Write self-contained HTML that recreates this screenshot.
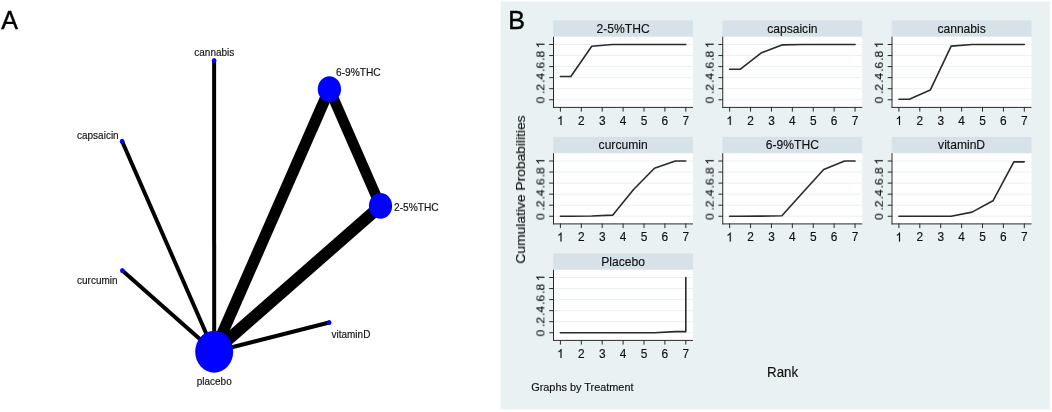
<!DOCTYPE html><html><head><meta charset="utf-8"><style>html,body{margin:0;padding:0;background:#fff;overflow:hidden;}svg{display:block;}text{font-family:"Liberation Sans",sans-serif;will-change:transform;}</style></head><body>
<svg width="1052" height="412" viewBox="0 0 1052 412">
<rect x="0" y="0" width="1052" height="412" fill="#fff"/>
<g opacity="0.999">
<text transform="translate(1.30,29.00)" font-size="25" text-anchor="start" fill="#000" stroke="#000" stroke-width="0.45">A</text>
<line x1="214.2" y1="351.7" x2="214.1" y2="60.6" stroke="#000" stroke-width="4"/>
<line x1="214.2" y1="351.7" x2="122.1" y2="141.3" stroke="#000" stroke-width="4"/>
<line x1="214.2" y1="351.7" x2="122.3" y2="270.4" stroke="#000" stroke-width="4"/>
<line x1="214.2" y1="351.7" x2="329.2" y2="322.5" stroke="#000" stroke-width="4"/>
<line x1="214.2" y1="351.7" x2="329.4" y2="89.2" stroke="#000" stroke-width="11.4"/>
<line x1="214.2" y1="351.7" x2="380.5" y2="205.9" stroke="#000" stroke-width="12"/>
<line x1="329.4" y1="89.2" x2="380.5" y2="205.9" stroke="#000" stroke-width="10.6"/>
<ellipse cx="214.2" cy="351.7" rx="19" ry="21" fill="#0000ff"/>
<ellipse cx="329.4" cy="89.2" rx="11.6" ry="12.9" fill="#0000ff"/>
<ellipse cx="380.5" cy="205.9" rx="11.6" ry="12.9" fill="#0000ff"/>
<ellipse cx="214.1" cy="60.6" rx="2.3" ry="2.5" fill="#0000ff"/>
<ellipse cx="122.1" cy="141.3" rx="2.3" ry="2.5" fill="#0000ff"/>
<ellipse cx="122.3" cy="270.4" rx="2.3" ry="2.5" fill="#0000ff"/>
<ellipse cx="329.2" cy="322.5" rx="2.3" ry="2.5" fill="#0000ff"/>
<text transform="translate(214.30,55.80) scale(1,1.12)" font-size="10" text-anchor="middle" fill="#111" stroke="#111" stroke-width="0.15">cannabis</text>
<text transform="translate(336.00,76.40) scale(1,1.12)" font-size="10.2" text-anchor="start" fill="#111" stroke="#111" stroke-width="0.15">6-9%THC</text>
<text transform="translate(394.00,210.70) scale(1,1.12)" font-size="10.2" text-anchor="start" fill="#111" stroke="#111" stroke-width="0.15">2-5%THC</text>
<text transform="translate(77.00,138.70) scale(1,1.12)" font-size="10" text-anchor="start" fill="#111" stroke="#111" stroke-width="0.15">capsaicin</text>
<text transform="translate(77.00,283.60) scale(1,1.12)" font-size="10" text-anchor="start" fill="#111" stroke="#111" stroke-width="0.15">curcumin</text>
<text transform="translate(331.50,337.60) scale(1,1.12)" font-size="10" text-anchor="start" fill="#111" stroke="#111" stroke-width="0.15">vitaminD</text>
<text transform="translate(214.20,385.50) scale(1,1.12)" font-size="10" text-anchor="middle" fill="#111" stroke="#111" stroke-width="0.15">placebo</text>
<rect x="500.5" y="1.6" width="549.3" height="407.9" fill="#e9f1f2"/>
<text transform="translate(508.20,29.00)" font-size="25" text-anchor="start" fill="#000" stroke="#000" stroke-width="0.45">B</text>
<rect x="553.20" y="20.40" width="139.8" height="16.4" fill="#d7e2e8"/>
<text transform="translate(623.10,32.60) scale(1,1.03)" font-size="12.1" text-anchor="middle" fill="#111" stroke="#111" stroke-width="0.15">2-5%THC</text>
<rect x="553.20" y="36.80" width="139.8" height="70.60" fill="#fff"/>
<line x1="554.20" y1="99.75" x2="693.00" y2="99.75" stroke="#ebf0f1" stroke-width="1"/>
<line x1="549.20" y1="99.75" x2="553.70" y2="99.75" stroke="#2a2a2a" stroke-width="1"/>
<text transform="translate(544.40,100.05) scale(1,1.04) rotate(-90)" font-size="11.6" text-anchor="middle" fill="#111" stroke="#111" stroke-width="0.15">0</text>
<line x1="554.20" y1="88.70" x2="693.00" y2="88.70" stroke="#ebf0f1" stroke-width="1"/>
<line x1="549.20" y1="88.70" x2="553.70" y2="88.70" stroke="#2a2a2a" stroke-width="1"/>
<text transform="translate(544.40,89.00) scale(1,1.04) rotate(-90)" font-size="11.6" text-anchor="middle" fill="#111" stroke="#111" stroke-width="0.15">.2</text>
<line x1="554.20" y1="77.65" x2="693.00" y2="77.65" stroke="#ebf0f1" stroke-width="1"/>
<line x1="549.20" y1="77.65" x2="553.70" y2="77.65" stroke="#2a2a2a" stroke-width="1"/>
<text transform="translate(544.40,77.95) scale(1,1.04) rotate(-90)" font-size="11.6" text-anchor="middle" fill="#111" stroke="#111" stroke-width="0.15">.4</text>
<line x1="554.20" y1="66.60" x2="693.00" y2="66.60" stroke="#ebf0f1" stroke-width="1"/>
<line x1="549.20" y1="66.60" x2="553.70" y2="66.60" stroke="#2a2a2a" stroke-width="1"/>
<text transform="translate(544.40,66.90) scale(1,1.04) rotate(-90)" font-size="11.6" text-anchor="middle" fill="#111" stroke="#111" stroke-width="0.15">.6</text>
<line x1="554.20" y1="55.55" x2="693.00" y2="55.55" stroke="#ebf0f1" stroke-width="1"/>
<line x1="549.20" y1="55.55" x2="553.70" y2="55.55" stroke="#2a2a2a" stroke-width="1"/>
<text transform="translate(544.40,55.85) scale(1,1.04) rotate(-90)" font-size="11.6" text-anchor="middle" fill="#111" stroke="#111" stroke-width="0.15">.8</text>
<line x1="554.20" y1="44.50" x2="693.00" y2="44.50" stroke="#ebf0f1" stroke-width="1"/>
<line x1="549.20" y1="44.50" x2="553.70" y2="44.50" stroke="#2a2a2a" stroke-width="1"/>
<path transform="translate(544.40,44.80) scale(1,1.04) rotate(-90) translate(-3.226,0) scale(0.00566,-0.00566)" d="M763 0H583V1147Q518 1085 412.5 1023Q307 961 223 930V1104Q374 1175 487 1276Q600 1377 647 1472H763Z" fill="#111" stroke="#111" stroke-width="26.5"/>
<line x1="560.40" y1="107.00" x2="560.40" y2="111.60" stroke="#2a2a2a" stroke-width="1"/>
<path transform="translate(560.40,124.90) scale(1,1.045) translate(-3.309,0) scale(0.00581,-0.00581)" d="M763 0H583V1147Q518 1085 412.5 1023Q307 961 223 930V1104Q374 1175 487 1276Q600 1377 647 1472H763Z" fill="#111" stroke="#111" stroke-width="25.8"/>
<line x1="581.30" y1="107.00" x2="581.30" y2="111.60" stroke="#2a2a2a" stroke-width="1"/>
<text transform="translate(581.30,124.90) scale(1,1.045)" font-size="11.9" text-anchor="middle" fill="#111" stroke="#111" stroke-width="0.15">2</text>
<line x1="602.20" y1="107.00" x2="602.20" y2="111.60" stroke="#2a2a2a" stroke-width="1"/>
<text transform="translate(602.20,124.90) scale(1,1.045)" font-size="11.9" text-anchor="middle" fill="#111" stroke="#111" stroke-width="0.15">3</text>
<line x1="623.10" y1="107.00" x2="623.10" y2="111.60" stroke="#2a2a2a" stroke-width="1"/>
<text transform="translate(623.10,124.90) scale(1,1.045)" font-size="11.9" text-anchor="middle" fill="#111" stroke="#111" stroke-width="0.15">4</text>
<line x1="644.00" y1="107.00" x2="644.00" y2="111.60" stroke="#2a2a2a" stroke-width="1"/>
<text transform="translate(644.00,124.90) scale(1,1.045)" font-size="11.9" text-anchor="middle" fill="#111" stroke="#111" stroke-width="0.15">5</text>
<line x1="664.90" y1="107.00" x2="664.90" y2="111.60" stroke="#2a2a2a" stroke-width="1"/>
<text transform="translate(664.90,124.90) scale(1,1.045)" font-size="11.9" text-anchor="middle" fill="#111" stroke="#111" stroke-width="0.15">6</text>
<line x1="685.80" y1="107.00" x2="685.80" y2="111.60" stroke="#2a2a2a" stroke-width="1"/>
<text transform="translate(685.80,124.90) scale(1,1.045)" font-size="11.9" text-anchor="middle" fill="#111" stroke="#111" stroke-width="0.15">7</text>
<line x1="553.50" y1="36.70" x2="553.50" y2="107.90" stroke="#2a2a2a" stroke-width="1"/>
<line x1="553.20" y1="107.40" x2="693.00" y2="107.40" stroke="#2a2a2a" stroke-width="1"/>
<polyline points="560.40,76.55 570.85,76.55 591.75,46.27 612.65,44.50 633.55,44.50 654.45,44.50 675.35,44.50 685.80,44.50" fill="none" stroke="#2a2a2a" stroke-width="1.6" stroke-linejoin="round" stroke-linecap="round"/>
<rect x="722.45" y="20.40" width="139.8" height="16.4" fill="#d7e2e8"/>
<text transform="translate(792.35,32.60) scale(1,1.03)" font-size="12.1" text-anchor="middle" fill="#111" stroke="#111" stroke-width="0.15">capsaicin</text>
<rect x="722.45" y="36.80" width="139.8" height="70.60" fill="#fff"/>
<line x1="723.45" y1="99.75" x2="862.25" y2="99.75" stroke="#ebf0f1" stroke-width="1"/>
<line x1="718.45" y1="99.75" x2="722.95" y2="99.75" stroke="#2a2a2a" stroke-width="1"/>
<text transform="translate(713.65,100.05) scale(1,1.04) rotate(-90)" font-size="11.6" text-anchor="middle" fill="#111" stroke="#111" stroke-width="0.15">0</text>
<line x1="723.45" y1="88.70" x2="862.25" y2="88.70" stroke="#ebf0f1" stroke-width="1"/>
<line x1="718.45" y1="88.70" x2="722.95" y2="88.70" stroke="#2a2a2a" stroke-width="1"/>
<text transform="translate(713.65,89.00) scale(1,1.04) rotate(-90)" font-size="11.6" text-anchor="middle" fill="#111" stroke="#111" stroke-width="0.15">.2</text>
<line x1="723.45" y1="77.65" x2="862.25" y2="77.65" stroke="#ebf0f1" stroke-width="1"/>
<line x1="718.45" y1="77.65" x2="722.95" y2="77.65" stroke="#2a2a2a" stroke-width="1"/>
<text transform="translate(713.65,77.95) scale(1,1.04) rotate(-90)" font-size="11.6" text-anchor="middle" fill="#111" stroke="#111" stroke-width="0.15">.4</text>
<line x1="723.45" y1="66.60" x2="862.25" y2="66.60" stroke="#ebf0f1" stroke-width="1"/>
<line x1="718.45" y1="66.60" x2="722.95" y2="66.60" stroke="#2a2a2a" stroke-width="1"/>
<text transform="translate(713.65,66.90) scale(1,1.04) rotate(-90)" font-size="11.6" text-anchor="middle" fill="#111" stroke="#111" stroke-width="0.15">.6</text>
<line x1="723.45" y1="55.55" x2="862.25" y2="55.55" stroke="#ebf0f1" stroke-width="1"/>
<line x1="718.45" y1="55.55" x2="722.95" y2="55.55" stroke="#2a2a2a" stroke-width="1"/>
<text transform="translate(713.65,55.85) scale(1,1.04) rotate(-90)" font-size="11.6" text-anchor="middle" fill="#111" stroke="#111" stroke-width="0.15">.8</text>
<line x1="723.45" y1="44.50" x2="862.25" y2="44.50" stroke="#ebf0f1" stroke-width="1"/>
<line x1="718.45" y1="44.50" x2="722.95" y2="44.50" stroke="#2a2a2a" stroke-width="1"/>
<path transform="translate(713.65,44.80) scale(1,1.04) rotate(-90) translate(-3.226,0) scale(0.00566,-0.00566)" d="M763 0H583V1147Q518 1085 412.5 1023Q307 961 223 930V1104Q374 1175 487 1276Q600 1377 647 1472H763Z" fill="#111" stroke="#111" stroke-width="26.5"/>
<line x1="729.65" y1="107.00" x2="729.65" y2="111.60" stroke="#2a2a2a" stroke-width="1"/>
<path transform="translate(729.65,124.90) scale(1,1.045) translate(-3.309,0) scale(0.00581,-0.00581)" d="M763 0H583V1147Q518 1085 412.5 1023Q307 961 223 930V1104Q374 1175 487 1276Q600 1377 647 1472H763Z" fill="#111" stroke="#111" stroke-width="25.8"/>
<line x1="750.55" y1="107.00" x2="750.55" y2="111.60" stroke="#2a2a2a" stroke-width="1"/>
<text transform="translate(750.55,124.90) scale(1,1.045)" font-size="11.9" text-anchor="middle" fill="#111" stroke="#111" stroke-width="0.15">2</text>
<line x1="771.45" y1="107.00" x2="771.45" y2="111.60" stroke="#2a2a2a" stroke-width="1"/>
<text transform="translate(771.45,124.90) scale(1,1.045)" font-size="11.9" text-anchor="middle" fill="#111" stroke="#111" stroke-width="0.15">3</text>
<line x1="792.35" y1="107.00" x2="792.35" y2="111.60" stroke="#2a2a2a" stroke-width="1"/>
<text transform="translate(792.35,124.90) scale(1,1.045)" font-size="11.9" text-anchor="middle" fill="#111" stroke="#111" stroke-width="0.15">4</text>
<line x1="813.25" y1="107.00" x2="813.25" y2="111.60" stroke="#2a2a2a" stroke-width="1"/>
<text transform="translate(813.25,124.90) scale(1,1.045)" font-size="11.9" text-anchor="middle" fill="#111" stroke="#111" stroke-width="0.15">5</text>
<line x1="834.15" y1="107.00" x2="834.15" y2="111.60" stroke="#2a2a2a" stroke-width="1"/>
<text transform="translate(834.15,124.90) scale(1,1.045)" font-size="11.9" text-anchor="middle" fill="#111" stroke="#111" stroke-width="0.15">6</text>
<line x1="855.05" y1="107.00" x2="855.05" y2="111.60" stroke="#2a2a2a" stroke-width="1"/>
<text transform="translate(855.05,124.90) scale(1,1.045)" font-size="11.9" text-anchor="middle" fill="#111" stroke="#111" stroke-width="0.15">7</text>
<line x1="722.75" y1="36.70" x2="722.75" y2="107.90" stroke="#2a2a2a" stroke-width="1"/>
<line x1="722.45" y1="107.40" x2="862.25" y2="107.40" stroke="#2a2a2a" stroke-width="1"/>
<polyline points="729.65,69.31 740.10,69.31 761.00,53.06 781.90,44.89 802.80,44.50 823.70,44.50 844.60,44.50 855.05,44.50" fill="none" stroke="#2a2a2a" stroke-width="1.6" stroke-linejoin="round" stroke-linecap="round"/>
<rect x="891.70" y="20.40" width="139.8" height="16.4" fill="#d7e2e8"/>
<text transform="translate(961.60,32.60) scale(1,1.03)" font-size="12.1" text-anchor="middle" fill="#111" stroke="#111" stroke-width="0.15">cannabis</text>
<rect x="891.70" y="36.80" width="139.8" height="70.60" fill="#fff"/>
<line x1="892.70" y1="99.75" x2="1031.50" y2="99.75" stroke="#ebf0f1" stroke-width="1"/>
<line x1="887.70" y1="99.75" x2="892.20" y2="99.75" stroke="#2a2a2a" stroke-width="1"/>
<text transform="translate(882.90,100.05) scale(1,1.04) rotate(-90)" font-size="11.6" text-anchor="middle" fill="#111" stroke="#111" stroke-width="0.15">0</text>
<line x1="892.70" y1="88.70" x2="1031.50" y2="88.70" stroke="#ebf0f1" stroke-width="1"/>
<line x1="887.70" y1="88.70" x2="892.20" y2="88.70" stroke="#2a2a2a" stroke-width="1"/>
<text transform="translate(882.90,89.00) scale(1,1.04) rotate(-90)" font-size="11.6" text-anchor="middle" fill="#111" stroke="#111" stroke-width="0.15">.2</text>
<line x1="892.70" y1="77.65" x2="1031.50" y2="77.65" stroke="#ebf0f1" stroke-width="1"/>
<line x1="887.70" y1="77.65" x2="892.20" y2="77.65" stroke="#2a2a2a" stroke-width="1"/>
<text transform="translate(882.90,77.95) scale(1,1.04) rotate(-90)" font-size="11.6" text-anchor="middle" fill="#111" stroke="#111" stroke-width="0.15">.4</text>
<line x1="892.70" y1="66.60" x2="1031.50" y2="66.60" stroke="#ebf0f1" stroke-width="1"/>
<line x1="887.70" y1="66.60" x2="892.20" y2="66.60" stroke="#2a2a2a" stroke-width="1"/>
<text transform="translate(882.90,66.90) scale(1,1.04) rotate(-90)" font-size="11.6" text-anchor="middle" fill="#111" stroke="#111" stroke-width="0.15">.6</text>
<line x1="892.70" y1="55.55" x2="1031.50" y2="55.55" stroke="#ebf0f1" stroke-width="1"/>
<line x1="887.70" y1="55.55" x2="892.20" y2="55.55" stroke="#2a2a2a" stroke-width="1"/>
<text transform="translate(882.90,55.85) scale(1,1.04) rotate(-90)" font-size="11.6" text-anchor="middle" fill="#111" stroke="#111" stroke-width="0.15">.8</text>
<line x1="892.70" y1="44.50" x2="1031.50" y2="44.50" stroke="#ebf0f1" stroke-width="1"/>
<line x1="887.70" y1="44.50" x2="892.20" y2="44.50" stroke="#2a2a2a" stroke-width="1"/>
<path transform="translate(882.90,44.80) scale(1,1.04) rotate(-90) translate(-3.226,0) scale(0.00566,-0.00566)" d="M763 0H583V1147Q518 1085 412.5 1023Q307 961 223 930V1104Q374 1175 487 1276Q600 1377 647 1472H763Z" fill="#111" stroke="#111" stroke-width="26.5"/>
<line x1="898.90" y1="107.00" x2="898.90" y2="111.60" stroke="#2a2a2a" stroke-width="1"/>
<path transform="translate(898.90,124.90) scale(1,1.045) translate(-3.309,0) scale(0.00581,-0.00581)" d="M763 0H583V1147Q518 1085 412.5 1023Q307 961 223 930V1104Q374 1175 487 1276Q600 1377 647 1472H763Z" fill="#111" stroke="#111" stroke-width="25.8"/>
<line x1="919.80" y1="107.00" x2="919.80" y2="111.60" stroke="#2a2a2a" stroke-width="1"/>
<text transform="translate(919.80,124.90) scale(1,1.045)" font-size="11.9" text-anchor="middle" fill="#111" stroke="#111" stroke-width="0.15">2</text>
<line x1="940.70" y1="107.00" x2="940.70" y2="111.60" stroke="#2a2a2a" stroke-width="1"/>
<text transform="translate(940.70,124.90) scale(1,1.045)" font-size="11.9" text-anchor="middle" fill="#111" stroke="#111" stroke-width="0.15">3</text>
<line x1="961.60" y1="107.00" x2="961.60" y2="111.60" stroke="#2a2a2a" stroke-width="1"/>
<text transform="translate(961.60,124.90) scale(1,1.045)" font-size="11.9" text-anchor="middle" fill="#111" stroke="#111" stroke-width="0.15">4</text>
<line x1="982.50" y1="107.00" x2="982.50" y2="111.60" stroke="#2a2a2a" stroke-width="1"/>
<text transform="translate(982.50,124.90) scale(1,1.045)" font-size="11.9" text-anchor="middle" fill="#111" stroke="#111" stroke-width="0.15">5</text>
<line x1="1003.40" y1="107.00" x2="1003.40" y2="111.60" stroke="#2a2a2a" stroke-width="1"/>
<text transform="translate(1003.40,124.90) scale(1,1.045)" font-size="11.9" text-anchor="middle" fill="#111" stroke="#111" stroke-width="0.15">6</text>
<line x1="1024.30" y1="107.00" x2="1024.30" y2="111.60" stroke="#2a2a2a" stroke-width="1"/>
<text transform="translate(1024.30,124.90) scale(1,1.045)" font-size="11.9" text-anchor="middle" fill="#111" stroke="#111" stroke-width="0.15">7</text>
<line x1="892.00" y1="36.70" x2="892.00" y2="107.90" stroke="#2a2a2a" stroke-width="1"/>
<line x1="891.70" y1="107.40" x2="1031.50" y2="107.40" stroke="#2a2a2a" stroke-width="1"/>
<polyline points="898.90,99.20 909.35,99.20 930.25,90.08 951.15,46.16 972.05,44.50 992.95,44.50 1013.85,44.50 1024.30,44.50" fill="none" stroke="#2a2a2a" stroke-width="1.6" stroke-linejoin="round" stroke-linecap="round"/>
<rect x="553.20" y="136.90" width="139.8" height="16.4" fill="#d7e2e8"/>
<text transform="translate(623.10,149.10) scale(1,1.03)" font-size="12.1" text-anchor="middle" fill="#111" stroke="#111" stroke-width="0.15">curcumin</text>
<rect x="553.20" y="153.30" width="139.8" height="70.60" fill="#fff"/>
<line x1="554.20" y1="216.25" x2="693.00" y2="216.25" stroke="#ebf0f1" stroke-width="1"/>
<line x1="549.20" y1="216.25" x2="553.70" y2="216.25" stroke="#2a2a2a" stroke-width="1"/>
<text transform="translate(544.40,216.55) scale(1,1.04) rotate(-90)" font-size="11.6" text-anchor="middle" fill="#111" stroke="#111" stroke-width="0.15">0</text>
<line x1="554.20" y1="205.20" x2="693.00" y2="205.20" stroke="#ebf0f1" stroke-width="1"/>
<line x1="549.20" y1="205.20" x2="553.70" y2="205.20" stroke="#2a2a2a" stroke-width="1"/>
<text transform="translate(544.40,205.50) scale(1,1.04) rotate(-90)" font-size="11.6" text-anchor="middle" fill="#111" stroke="#111" stroke-width="0.15">.2</text>
<line x1="554.20" y1="194.15" x2="693.00" y2="194.15" stroke="#ebf0f1" stroke-width="1"/>
<line x1="549.20" y1="194.15" x2="553.70" y2="194.15" stroke="#2a2a2a" stroke-width="1"/>
<text transform="translate(544.40,194.45) scale(1,1.04) rotate(-90)" font-size="11.6" text-anchor="middle" fill="#111" stroke="#111" stroke-width="0.15">.4</text>
<line x1="554.20" y1="183.10" x2="693.00" y2="183.10" stroke="#ebf0f1" stroke-width="1"/>
<line x1="549.20" y1="183.10" x2="553.70" y2="183.10" stroke="#2a2a2a" stroke-width="1"/>
<text transform="translate(544.40,183.40) scale(1,1.04) rotate(-90)" font-size="11.6" text-anchor="middle" fill="#111" stroke="#111" stroke-width="0.15">.6</text>
<line x1="554.20" y1="172.05" x2="693.00" y2="172.05" stroke="#ebf0f1" stroke-width="1"/>
<line x1="549.20" y1="172.05" x2="553.70" y2="172.05" stroke="#2a2a2a" stroke-width="1"/>
<text transform="translate(544.40,172.35) scale(1,1.04) rotate(-90)" font-size="11.6" text-anchor="middle" fill="#111" stroke="#111" stroke-width="0.15">.8</text>
<line x1="554.20" y1="161.00" x2="693.00" y2="161.00" stroke="#ebf0f1" stroke-width="1"/>
<line x1="549.20" y1="161.00" x2="553.70" y2="161.00" stroke="#2a2a2a" stroke-width="1"/>
<path transform="translate(544.40,161.30) scale(1,1.04) rotate(-90) translate(-3.226,0) scale(0.00566,-0.00566)" d="M763 0H583V1147Q518 1085 412.5 1023Q307 961 223 930V1104Q374 1175 487 1276Q600 1377 647 1472H763Z" fill="#111" stroke="#111" stroke-width="26.5"/>
<line x1="560.40" y1="223.50" x2="560.40" y2="228.10" stroke="#2a2a2a" stroke-width="1"/>
<path transform="translate(560.40,241.40) scale(1,1.045) translate(-3.309,0) scale(0.00581,-0.00581)" d="M763 0H583V1147Q518 1085 412.5 1023Q307 961 223 930V1104Q374 1175 487 1276Q600 1377 647 1472H763Z" fill="#111" stroke="#111" stroke-width="25.8"/>
<line x1="581.30" y1="223.50" x2="581.30" y2="228.10" stroke="#2a2a2a" stroke-width="1"/>
<text transform="translate(581.30,241.40) scale(1,1.045)" font-size="11.9" text-anchor="middle" fill="#111" stroke="#111" stroke-width="0.15">2</text>
<line x1="602.20" y1="223.50" x2="602.20" y2="228.10" stroke="#2a2a2a" stroke-width="1"/>
<text transform="translate(602.20,241.40) scale(1,1.045)" font-size="11.9" text-anchor="middle" fill="#111" stroke="#111" stroke-width="0.15">3</text>
<line x1="623.10" y1="223.50" x2="623.10" y2="228.10" stroke="#2a2a2a" stroke-width="1"/>
<text transform="translate(623.10,241.40) scale(1,1.045)" font-size="11.9" text-anchor="middle" fill="#111" stroke="#111" stroke-width="0.15">4</text>
<line x1="644.00" y1="223.50" x2="644.00" y2="228.10" stroke="#2a2a2a" stroke-width="1"/>
<text transform="translate(644.00,241.40) scale(1,1.045)" font-size="11.9" text-anchor="middle" fill="#111" stroke="#111" stroke-width="0.15">5</text>
<line x1="664.90" y1="223.50" x2="664.90" y2="228.10" stroke="#2a2a2a" stroke-width="1"/>
<text transform="translate(664.90,241.40) scale(1,1.045)" font-size="11.9" text-anchor="middle" fill="#111" stroke="#111" stroke-width="0.15">6</text>
<line x1="685.80" y1="223.50" x2="685.80" y2="228.10" stroke="#2a2a2a" stroke-width="1"/>
<text transform="translate(685.80,241.40) scale(1,1.045)" font-size="11.9" text-anchor="middle" fill="#111" stroke="#111" stroke-width="0.15">7</text>
<line x1="553.50" y1="153.20" x2="553.50" y2="224.40" stroke="#2a2a2a" stroke-width="1"/>
<line x1="553.20" y1="223.90" x2="693.00" y2="223.90" stroke="#2a2a2a" stroke-width="1"/>
<polyline points="560.40,216.25 570.85,216.25 591.75,215.97 612.65,215.15 633.55,189.45 654.45,168.29 675.35,161.00 685.80,161.00" fill="none" stroke="#2a2a2a" stroke-width="1.6" stroke-linejoin="round" stroke-linecap="round"/>
<rect x="722.45" y="136.90" width="139.8" height="16.4" fill="#d7e2e8"/>
<text transform="translate(792.35,149.10) scale(1,1.03)" font-size="12.1" text-anchor="middle" fill="#111" stroke="#111" stroke-width="0.15">6-9%THC</text>
<rect x="722.45" y="153.30" width="139.8" height="70.60" fill="#fff"/>
<line x1="723.45" y1="216.25" x2="862.25" y2="216.25" stroke="#ebf0f1" stroke-width="1"/>
<line x1="718.45" y1="216.25" x2="722.95" y2="216.25" stroke="#2a2a2a" stroke-width="1"/>
<text transform="translate(713.65,216.55) scale(1,1.04) rotate(-90)" font-size="11.6" text-anchor="middle" fill="#111" stroke="#111" stroke-width="0.15">0</text>
<line x1="723.45" y1="205.20" x2="862.25" y2="205.20" stroke="#ebf0f1" stroke-width="1"/>
<line x1="718.45" y1="205.20" x2="722.95" y2="205.20" stroke="#2a2a2a" stroke-width="1"/>
<text transform="translate(713.65,205.50) scale(1,1.04) rotate(-90)" font-size="11.6" text-anchor="middle" fill="#111" stroke="#111" stroke-width="0.15">.2</text>
<line x1="723.45" y1="194.15" x2="862.25" y2="194.15" stroke="#ebf0f1" stroke-width="1"/>
<line x1="718.45" y1="194.15" x2="722.95" y2="194.15" stroke="#2a2a2a" stroke-width="1"/>
<text transform="translate(713.65,194.45) scale(1,1.04) rotate(-90)" font-size="11.6" text-anchor="middle" fill="#111" stroke="#111" stroke-width="0.15">.4</text>
<line x1="723.45" y1="183.10" x2="862.25" y2="183.10" stroke="#ebf0f1" stroke-width="1"/>
<line x1="718.45" y1="183.10" x2="722.95" y2="183.10" stroke="#2a2a2a" stroke-width="1"/>
<text transform="translate(713.65,183.40) scale(1,1.04) rotate(-90)" font-size="11.6" text-anchor="middle" fill="#111" stroke="#111" stroke-width="0.15">.6</text>
<line x1="723.45" y1="172.05" x2="862.25" y2="172.05" stroke="#ebf0f1" stroke-width="1"/>
<line x1="718.45" y1="172.05" x2="722.95" y2="172.05" stroke="#2a2a2a" stroke-width="1"/>
<text transform="translate(713.65,172.35) scale(1,1.04) rotate(-90)" font-size="11.6" text-anchor="middle" fill="#111" stroke="#111" stroke-width="0.15">.8</text>
<line x1="723.45" y1="161.00" x2="862.25" y2="161.00" stroke="#ebf0f1" stroke-width="1"/>
<line x1="718.45" y1="161.00" x2="722.95" y2="161.00" stroke="#2a2a2a" stroke-width="1"/>
<path transform="translate(713.65,161.30) scale(1,1.04) rotate(-90) translate(-3.226,0) scale(0.00566,-0.00566)" d="M763 0H583V1147Q518 1085 412.5 1023Q307 961 223 930V1104Q374 1175 487 1276Q600 1377 647 1472H763Z" fill="#111" stroke="#111" stroke-width="26.5"/>
<line x1="729.65" y1="223.50" x2="729.65" y2="228.10" stroke="#2a2a2a" stroke-width="1"/>
<path transform="translate(729.65,241.40) scale(1,1.045) translate(-3.309,0) scale(0.00581,-0.00581)" d="M763 0H583V1147Q518 1085 412.5 1023Q307 961 223 930V1104Q374 1175 487 1276Q600 1377 647 1472H763Z" fill="#111" stroke="#111" stroke-width="25.8"/>
<line x1="750.55" y1="223.50" x2="750.55" y2="228.10" stroke="#2a2a2a" stroke-width="1"/>
<text transform="translate(750.55,241.40) scale(1,1.045)" font-size="11.9" text-anchor="middle" fill="#111" stroke="#111" stroke-width="0.15">2</text>
<line x1="771.45" y1="223.50" x2="771.45" y2="228.10" stroke="#2a2a2a" stroke-width="1"/>
<text transform="translate(771.45,241.40) scale(1,1.045)" font-size="11.9" text-anchor="middle" fill="#111" stroke="#111" stroke-width="0.15">3</text>
<line x1="792.35" y1="223.50" x2="792.35" y2="228.10" stroke="#2a2a2a" stroke-width="1"/>
<text transform="translate(792.35,241.40) scale(1,1.045)" font-size="11.9" text-anchor="middle" fill="#111" stroke="#111" stroke-width="0.15">4</text>
<line x1="813.25" y1="223.50" x2="813.25" y2="228.10" stroke="#2a2a2a" stroke-width="1"/>
<text transform="translate(813.25,241.40) scale(1,1.045)" font-size="11.9" text-anchor="middle" fill="#111" stroke="#111" stroke-width="0.15">5</text>
<line x1="834.15" y1="223.50" x2="834.15" y2="228.10" stroke="#2a2a2a" stroke-width="1"/>
<text transform="translate(834.15,241.40) scale(1,1.045)" font-size="11.9" text-anchor="middle" fill="#111" stroke="#111" stroke-width="0.15">6</text>
<line x1="855.05" y1="223.50" x2="855.05" y2="228.10" stroke="#2a2a2a" stroke-width="1"/>
<text transform="translate(855.05,241.40) scale(1,1.045)" font-size="11.9" text-anchor="middle" fill="#111" stroke="#111" stroke-width="0.15">7</text>
<line x1="722.75" y1="153.20" x2="722.75" y2="224.40" stroke="#2a2a2a" stroke-width="1"/>
<line x1="722.45" y1="223.90" x2="862.25" y2="223.90" stroke="#2a2a2a" stroke-width="1"/>
<polyline points="729.65,216.25 740.10,216.25 761.00,216.08 781.90,215.70 802.80,192.49 823.70,169.45 844.60,161.00 855.05,161.00" fill="none" stroke="#2a2a2a" stroke-width="1.6" stroke-linejoin="round" stroke-linecap="round"/>
<rect x="891.70" y="136.90" width="139.8" height="16.4" fill="#d7e2e8"/>
<text transform="translate(961.60,149.10) scale(1,1.03)" font-size="12.1" text-anchor="middle" fill="#111" stroke="#111" stroke-width="0.15">vitaminD</text>
<rect x="891.70" y="153.30" width="139.8" height="70.60" fill="#fff"/>
<line x1="892.70" y1="216.25" x2="1031.50" y2="216.25" stroke="#ebf0f1" stroke-width="1"/>
<line x1="887.70" y1="216.25" x2="892.20" y2="216.25" stroke="#2a2a2a" stroke-width="1"/>
<text transform="translate(882.90,216.55) scale(1,1.04) rotate(-90)" font-size="11.6" text-anchor="middle" fill="#111" stroke="#111" stroke-width="0.15">0</text>
<line x1="892.70" y1="205.20" x2="1031.50" y2="205.20" stroke="#ebf0f1" stroke-width="1"/>
<line x1="887.70" y1="205.20" x2="892.20" y2="205.20" stroke="#2a2a2a" stroke-width="1"/>
<text transform="translate(882.90,205.50) scale(1,1.04) rotate(-90)" font-size="11.6" text-anchor="middle" fill="#111" stroke="#111" stroke-width="0.15">.2</text>
<line x1="892.70" y1="194.15" x2="1031.50" y2="194.15" stroke="#ebf0f1" stroke-width="1"/>
<line x1="887.70" y1="194.15" x2="892.20" y2="194.15" stroke="#2a2a2a" stroke-width="1"/>
<text transform="translate(882.90,194.45) scale(1,1.04) rotate(-90)" font-size="11.6" text-anchor="middle" fill="#111" stroke="#111" stroke-width="0.15">.4</text>
<line x1="892.70" y1="183.10" x2="1031.50" y2="183.10" stroke="#ebf0f1" stroke-width="1"/>
<line x1="887.70" y1="183.10" x2="892.20" y2="183.10" stroke="#2a2a2a" stroke-width="1"/>
<text transform="translate(882.90,183.40) scale(1,1.04) rotate(-90)" font-size="11.6" text-anchor="middle" fill="#111" stroke="#111" stroke-width="0.15">.6</text>
<line x1="892.70" y1="172.05" x2="1031.50" y2="172.05" stroke="#ebf0f1" stroke-width="1"/>
<line x1="887.70" y1="172.05" x2="892.20" y2="172.05" stroke="#2a2a2a" stroke-width="1"/>
<text transform="translate(882.90,172.35) scale(1,1.04) rotate(-90)" font-size="11.6" text-anchor="middle" fill="#111" stroke="#111" stroke-width="0.15">.8</text>
<line x1="892.70" y1="161.00" x2="1031.50" y2="161.00" stroke="#ebf0f1" stroke-width="1"/>
<line x1="887.70" y1="161.00" x2="892.20" y2="161.00" stroke="#2a2a2a" stroke-width="1"/>
<path transform="translate(882.90,161.30) scale(1,1.04) rotate(-90) translate(-3.226,0) scale(0.00566,-0.00566)" d="M763 0H583V1147Q518 1085 412.5 1023Q307 961 223 930V1104Q374 1175 487 1276Q600 1377 647 1472H763Z" fill="#111" stroke="#111" stroke-width="26.5"/>
<line x1="898.90" y1="223.50" x2="898.90" y2="228.10" stroke="#2a2a2a" stroke-width="1"/>
<path transform="translate(898.90,241.40) scale(1,1.045) translate(-3.309,0) scale(0.00581,-0.00581)" d="M763 0H583V1147Q518 1085 412.5 1023Q307 961 223 930V1104Q374 1175 487 1276Q600 1377 647 1472H763Z" fill="#111" stroke="#111" stroke-width="25.8"/>
<line x1="919.80" y1="223.50" x2="919.80" y2="228.10" stroke="#2a2a2a" stroke-width="1"/>
<text transform="translate(919.80,241.40) scale(1,1.045)" font-size="11.9" text-anchor="middle" fill="#111" stroke="#111" stroke-width="0.15">2</text>
<line x1="940.70" y1="223.50" x2="940.70" y2="228.10" stroke="#2a2a2a" stroke-width="1"/>
<text transform="translate(940.70,241.40) scale(1,1.045)" font-size="11.9" text-anchor="middle" fill="#111" stroke="#111" stroke-width="0.15">3</text>
<line x1="961.60" y1="223.50" x2="961.60" y2="228.10" stroke="#2a2a2a" stroke-width="1"/>
<text transform="translate(961.60,241.40) scale(1,1.045)" font-size="11.9" text-anchor="middle" fill="#111" stroke="#111" stroke-width="0.15">4</text>
<line x1="982.50" y1="223.50" x2="982.50" y2="228.10" stroke="#2a2a2a" stroke-width="1"/>
<text transform="translate(982.50,241.40) scale(1,1.045)" font-size="11.9" text-anchor="middle" fill="#111" stroke="#111" stroke-width="0.15">5</text>
<line x1="1003.40" y1="223.50" x2="1003.40" y2="228.10" stroke="#2a2a2a" stroke-width="1"/>
<text transform="translate(1003.40,241.40) scale(1,1.045)" font-size="11.9" text-anchor="middle" fill="#111" stroke="#111" stroke-width="0.15">6</text>
<line x1="1024.30" y1="223.50" x2="1024.30" y2="228.10" stroke="#2a2a2a" stroke-width="1"/>
<text transform="translate(1024.30,241.40) scale(1,1.045)" font-size="11.9" text-anchor="middle" fill="#111" stroke="#111" stroke-width="0.15">7</text>
<line x1="892.00" y1="153.20" x2="892.00" y2="224.40" stroke="#2a2a2a" stroke-width="1"/>
<line x1="891.70" y1="223.90" x2="1031.50" y2="223.90" stroke="#2a2a2a" stroke-width="1"/>
<polyline points="898.90,216.25 909.35,216.25 930.25,216.25 951.15,216.25 972.05,212.16 992.95,200.78 1013.85,161.83 1024.30,161.83" fill="none" stroke="#2a2a2a" stroke-width="1.6" stroke-linejoin="round" stroke-linecap="round"/>
<rect x="553.20" y="253.40" width="139.8" height="16.4" fill="#d7e2e8"/>
<text transform="translate(623.10,265.60) scale(1,1.03)" font-size="12.1" text-anchor="middle" fill="#111" stroke="#111" stroke-width="0.15">Placebo</text>
<rect x="553.20" y="269.80" width="139.8" height="70.60" fill="#fff"/>
<line x1="554.20" y1="332.75" x2="693.00" y2="332.75" stroke="#ebf0f1" stroke-width="1"/>
<line x1="549.20" y1="332.75" x2="553.70" y2="332.75" stroke="#2a2a2a" stroke-width="1"/>
<text transform="translate(544.40,333.05) scale(1,1.04) rotate(-90)" font-size="11.6" text-anchor="middle" fill="#111" stroke="#111" stroke-width="0.15">0</text>
<line x1="554.20" y1="321.70" x2="693.00" y2="321.70" stroke="#ebf0f1" stroke-width="1"/>
<line x1="549.20" y1="321.70" x2="553.70" y2="321.70" stroke="#2a2a2a" stroke-width="1"/>
<text transform="translate(544.40,322.00) scale(1,1.04) rotate(-90)" font-size="11.6" text-anchor="middle" fill="#111" stroke="#111" stroke-width="0.15">.2</text>
<line x1="554.20" y1="310.65" x2="693.00" y2="310.65" stroke="#ebf0f1" stroke-width="1"/>
<line x1="549.20" y1="310.65" x2="553.70" y2="310.65" stroke="#2a2a2a" stroke-width="1"/>
<text transform="translate(544.40,310.95) scale(1,1.04) rotate(-90)" font-size="11.6" text-anchor="middle" fill="#111" stroke="#111" stroke-width="0.15">.4</text>
<line x1="554.20" y1="299.60" x2="693.00" y2="299.60" stroke="#ebf0f1" stroke-width="1"/>
<line x1="549.20" y1="299.60" x2="553.70" y2="299.60" stroke="#2a2a2a" stroke-width="1"/>
<text transform="translate(544.40,299.90) scale(1,1.04) rotate(-90)" font-size="11.6" text-anchor="middle" fill="#111" stroke="#111" stroke-width="0.15">.6</text>
<line x1="554.20" y1="288.55" x2="693.00" y2="288.55" stroke="#ebf0f1" stroke-width="1"/>
<line x1="549.20" y1="288.55" x2="553.70" y2="288.55" stroke="#2a2a2a" stroke-width="1"/>
<text transform="translate(544.40,288.85) scale(1,1.04) rotate(-90)" font-size="11.6" text-anchor="middle" fill="#111" stroke="#111" stroke-width="0.15">.8</text>
<line x1="554.20" y1="277.50" x2="693.00" y2="277.50" stroke="#ebf0f1" stroke-width="1"/>
<line x1="549.20" y1="277.50" x2="553.70" y2="277.50" stroke="#2a2a2a" stroke-width="1"/>
<path transform="translate(544.40,277.80) scale(1,1.04) rotate(-90) translate(-3.226,0) scale(0.00566,-0.00566)" d="M763 0H583V1147Q518 1085 412.5 1023Q307 961 223 930V1104Q374 1175 487 1276Q600 1377 647 1472H763Z" fill="#111" stroke="#111" stroke-width="26.5"/>
<line x1="560.40" y1="340.00" x2="560.40" y2="344.60" stroke="#2a2a2a" stroke-width="1"/>
<path transform="translate(560.40,357.90) scale(1,1.045) translate(-3.309,0) scale(0.00581,-0.00581)" d="M763 0H583V1147Q518 1085 412.5 1023Q307 961 223 930V1104Q374 1175 487 1276Q600 1377 647 1472H763Z" fill="#111" stroke="#111" stroke-width="25.8"/>
<line x1="581.30" y1="340.00" x2="581.30" y2="344.60" stroke="#2a2a2a" stroke-width="1"/>
<text transform="translate(581.30,357.90) scale(1,1.045)" font-size="11.9" text-anchor="middle" fill="#111" stroke="#111" stroke-width="0.15">2</text>
<line x1="602.20" y1="340.00" x2="602.20" y2="344.60" stroke="#2a2a2a" stroke-width="1"/>
<text transform="translate(602.20,357.90) scale(1,1.045)" font-size="11.9" text-anchor="middle" fill="#111" stroke="#111" stroke-width="0.15">3</text>
<line x1="623.10" y1="340.00" x2="623.10" y2="344.60" stroke="#2a2a2a" stroke-width="1"/>
<text transform="translate(623.10,357.90) scale(1,1.045)" font-size="11.9" text-anchor="middle" fill="#111" stroke="#111" stroke-width="0.15">4</text>
<line x1="644.00" y1="340.00" x2="644.00" y2="344.60" stroke="#2a2a2a" stroke-width="1"/>
<text transform="translate(644.00,357.90) scale(1,1.045)" font-size="11.9" text-anchor="middle" fill="#111" stroke="#111" stroke-width="0.15">5</text>
<line x1="664.90" y1="340.00" x2="664.90" y2="344.60" stroke="#2a2a2a" stroke-width="1"/>
<text transform="translate(664.90,357.90) scale(1,1.045)" font-size="11.9" text-anchor="middle" fill="#111" stroke="#111" stroke-width="0.15">6</text>
<line x1="685.80" y1="340.00" x2="685.80" y2="344.60" stroke="#2a2a2a" stroke-width="1"/>
<text transform="translate(685.80,357.90) scale(1,1.045)" font-size="11.9" text-anchor="middle" fill="#111" stroke="#111" stroke-width="0.15">7</text>
<line x1="553.50" y1="269.70" x2="553.50" y2="340.90" stroke="#2a2a2a" stroke-width="1"/>
<line x1="553.20" y1="340.40" x2="693.00" y2="340.40" stroke="#2a2a2a" stroke-width="1"/>
<polyline points="560.40,332.75 570.85,332.75 591.75,332.75 612.65,332.75 633.55,332.75 654.45,332.75 675.35,331.64 685.80,331.64 685.80,277.50" fill="none" stroke="#2a2a2a" stroke-width="1.6" stroke-linejoin="round" stroke-linecap="round"/>
<text transform="translate(525.00,189.50) scale(1,1.04) rotate(-90)" font-size="13.3" text-anchor="middle" fill="#111" stroke="#111" stroke-width="0.15">Cumulative Probabilities</text>
<text transform="translate(782.60,376.80) scale(1,1.07)" font-size="13.3" text-anchor="middle" fill="#111" stroke="#111" stroke-width="0.15">Rank</text>
<text transform="translate(531.20,391.10) scale(1,1.04)" font-size="10.9" text-anchor="start" fill="#111" stroke="#111" stroke-width="0.15">Graphs by Treatment</text>
</g></svg></body></html>
